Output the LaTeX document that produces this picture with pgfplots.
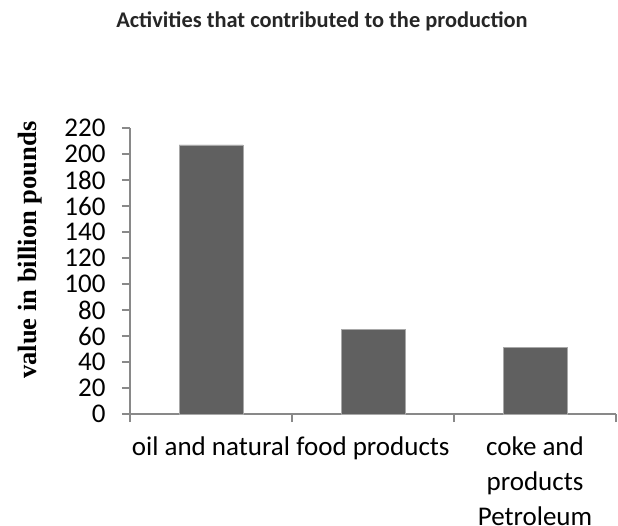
\documentclass[border=0pt]{standalone}
\usepackage{fontspec}
\setmainfont{Carlito}
\newfontfamily\timesfont{Liberation Serif}
\usepackage{pgfplots}
\pgfplotsset{compat=1.18}
\definecolor{barfill}{HTML}{606060}
\definecolor{baredge}{HTML}{A8A8A8}
\definecolor{axisgray}{HTML}{898989}

\begin{document}
\begin{tikzpicture}
\useasboundingbox (0,0) rectangle (618pt,525pt);
\begin{axis}[
    at={(130pt,111pt)}, anchor=south west,
    scale only axis,
    width=486pt, height=286pt,
    axis x line=bottom, axis y line=left,
    axis line style={axisgray, line width=1.2pt, -},
    xmin=-0.5, xmax=2.5,
    ymin=0, ymax=220,
    ytick={0,20,...,220},
    xtick={0,1,2},
    xticklabels={oil and natural, food products, {coke and\\products\\Petroleum}},
    minor xtick={-0.5,0.5,1.5,2.5},
    major x tick style={draw=none},
    minor x tick style={axisgray, line width=1.2pt},
    y tick style={axisgray, line width=1.2pt},
    tick align=outside,
    major tick length=8pt, minor tick length=8pt,
    /pgf/number format/assume math mode=true,
    yticklabel style={font=\fontsize{27}{32}\selectfont, xshift=-13pt},
    xticklabel style={font=\fontsize{27}{35}\selectfont, align=center, yshift=-11pt, anchor=north},
    ylabel={\timesfont\bfseries value in billion pounds},
    ylabel style={at={(axis description cs:-0.206,0.573)}, anchor=center, font=\fontsize{26.5}{30}\selectfont},
    title={\bfseries Activities that contributed to the production},
    title style={at={(axis description cs:0.395,1.353)}, anchor=center, font=\fontsize{22.4}{26}\selectfont, text=black!85},
    clip=false,
]
\addplot[ybar, bar width=64pt, fill=barfill, draw=baredge, line width=0.8pt]
    coordinates {(0,207) (1,65) (2,51)};
\end{axis}
\end{tikzpicture}
\end{document}
